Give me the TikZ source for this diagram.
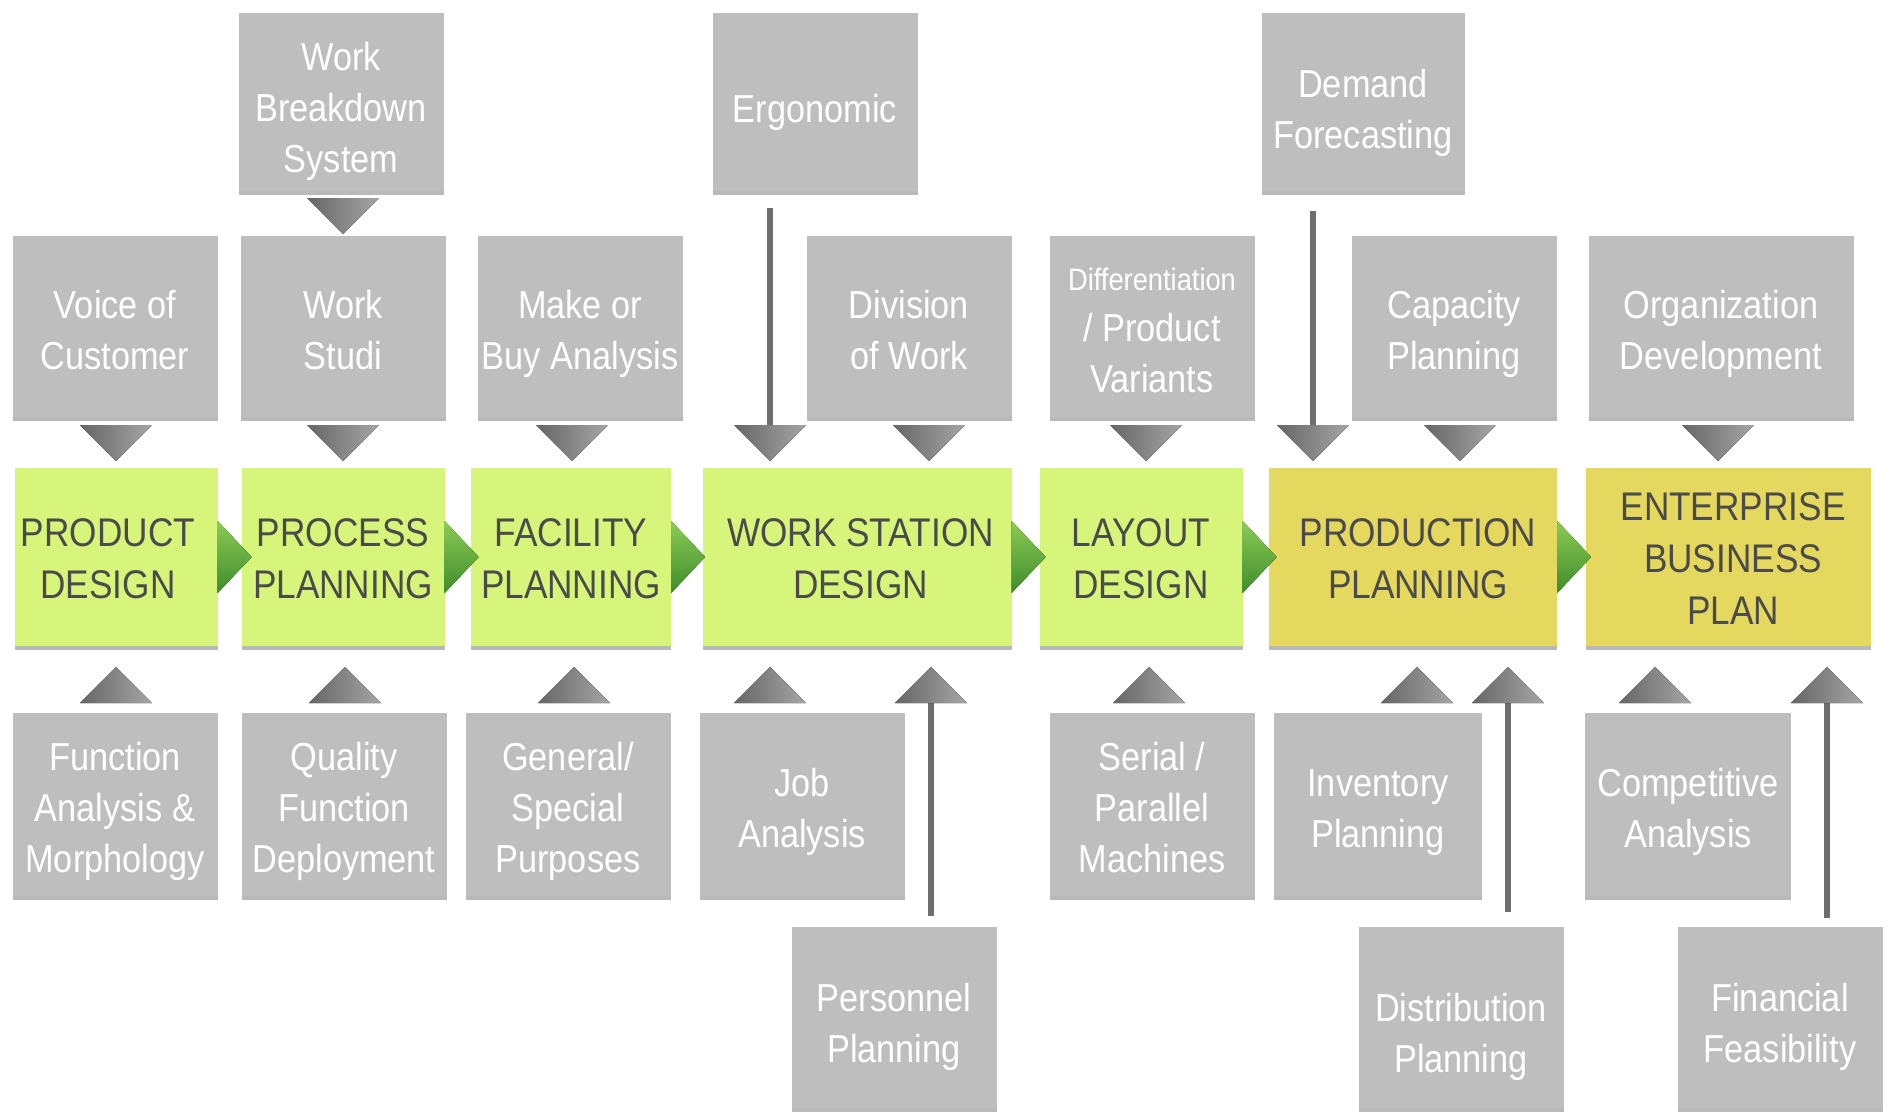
\documentclass[tikz,border=0pt]{standalone}
\usepackage{fontspec}
\setmainfont{Liberation Sans}[FakeStretch=0.88]
\usetikzlibrary{positioning,shadows}
\definecolor{boxgray}{HTML}{BEBEBE}
\definecolor{boxgreen}{HTML}{D6F57A}
\definecolor{boxyellow}{HTML}{E4D85E}
\definecolor{txtdark}{HTML}{4B4B4B}
\definecolor{linegray}{HTML}{6E6E6E}
\definecolor{chevlight}{HTML}{8CCB55}
\definecolor{chevdark}{HTML}{3F8C2C}
% text lines on a fixed grid, lowered a little in the box
\newcommand{\boxtxt}[2][-14pt]{\raisebox{#1}[0pt][0pt]{\begin{tabular}{@{}c@{}}#2\end{tabular}}}
\tikzset{
 gbox/.style={fill=boxgray, text=white, minimum width=205pt, minimum height=181pt, inner sep=0pt,
   font=\fontsize{39}{51}\selectfont, drop shadow={shadow xshift=0pt, shadow yshift=-4pt, opacity=0.55}},
 mbox/.style={gbox, fill=boxgreen, text=txtdark, minimum height=178pt, font=\fontsize{40}{52}\selectfont},
 ybox/.style={mbox, fill=boxyellow},
 feed/.style={linegray, line width=6pt},
 chev/.style={top color=chevlight, bottom color=chevdark},
 dtri/.pic={\fill[left color=black!60, right color=black!35] (-36,-18) -- (36,-18) -- (0,18) -- cycle;},
 utri/.pic={\fill[left color=black!60, right color=black!35] (-36,18) -- (36,18) -- (0,-18) -- cycle;}
}
\begin{document}
\begin{tikzpicture}[x=1pt,y=-1pt]
 \useasboundingbox (0,0) rectangle (1892,1113);
 % top row
 \node[gbox, minimum height=177pt] (wbs) at (341,102) {\boxtxt[-16pt]{Work\\Breakdown\\System}};
 \node[gbox, minimum height=177pt] (ergo) at (815,102) {\boxtxt[-17pt]{Ergonomic}};
 \node[gbox, minimum height=177pt, minimum width=203pt] (dfc) at (1363,102) {\boxtxt[-17pt]{Demand\\Forecasting}};
 % inputs above
 \node[gbox] (voc) at (115,326) {\boxtxt{Voice of\\Customer}};
 \node[gbox] (wst) at (343,326) {\boxtxt{Work\\Studi}};
 \node[gbox] (mob) at (580,326) {\boxtxt{Make or\\Buy Analysis}};
 \node[gbox] (dow) at (909,326) {\boxtxt{Division\\of Work}};
 \node[gbox] (dpv) at (1152,326) {\boxtxt[-11.5pt]{{\fontsize{31}{40}\selectfont Differentiation}\\/ Product\\Variants}};
 \node[gbox] (cap) at (1454,326) {\boxtxt{Capacity\\Planning}};
 \node[gbox, minimum width=265pt] (orgd) at (1721,326) {\boxtxt{Organization\\Development}};
 % main chain
 \node[mbox, minimum width=203pt] (pd) at (116,557) {\hspace*{-16pt}\boxtxt[-11.5pt]{PRODUCT\\DESIGN}};
 \node[mbox, minimum width=203pt] (pp) at (343,557) {\boxtxt[-11.5pt]{PROCESS\\PLANNING}};
 \node[mbox, minimum width=200pt] (fp) at (571,557) {\boxtxt[-11.5pt]{FACILITY\\PLANNING}};
 \node[mbox, minimum width=309pt] (wsd) at (857,557) {\hspace*{7pt}\boxtxt[-11.5pt]{WORK STATION\\DESIGN}};
 \node[mbox, minimum width=203pt] (ld) at (1141,557) {\boxtxt[-11.5pt]{LAYOUT\\DESIGN}};
 \node[ybox, minimum width=288pt] (prp) at (1413,557) {\hspace*{10pt}\boxtxt[-11.5pt]{PRODUCTION\\PLANNING}};
 \node[ybox, minimum width=285pt] (ebp) at (1728,557) {\hspace*{10pt}\boxtxt[-11.5pt]{ENTERPRISE\\BUSINESS\\PLAN}};
 % inputs below
 \node[gbox, minimum height=183pt] (fam) at (115,804) {\boxtxt{Function\\Analysis \&\\Morphology}};
 \node[gbox, minimum height=183pt] (qfd) at (344,804) {\boxtxt{Quality\\Function\\Deployment}};
 \node[gbox, minimum height=183pt] (gsp) at (568,804) {\boxtxt{General/\\Special\\Purposes}};
 \node[gbox, minimum height=183pt] (ja) at (802,804) {\boxtxt{Job\\Analysis}};
 \node[gbox, minimum height=183pt] (spm) at (1152,804) {\boxtxt{Serial /\\Parallel\\Machines}};
 \node[gbox, minimum height=183pt, minimum width=208pt] (inv) at (1378,804) {\boxtxt{Inventory\\Planning}};
 \node[gbox, minimum height=183pt, minimum width=206pt] (comp) at (1688,804) {\boxtxt{Competitive\\Analysis}};
 \node[gbox] (pers) at (894,1017) {\boxtxt[-16pt]{Personnel\\Planning}};
 \node[gbox] (dist) at (1461,1017) {\boxtxt[-26pt]{Distribution\\Planning}};
 \node[gbox] (fin) at (1780,1017) {\boxtxt[-16pt]{Financial\\Feasibility}};
 % chevrons
 \fill[chev] ([yshift=36pt]pd.east) -- ([xshift=34pt]pd.east) -- ([yshift=-36pt]pd.east) -- cycle;
 \fill[chev] ([yshift=36pt]pp.east) -- ([xshift=34pt]pp.east) -- ([yshift=-36pt]pp.east) -- cycle;
 \fill[chev] ([yshift=36pt]fp.east) -- ([xshift=34pt]fp.east) -- ([yshift=-36pt]fp.east) -- cycle;
 \fill[chev] ([yshift=36pt]wsd.east) -- ([xshift=34pt]wsd.east) -- ([yshift=-36pt]wsd.east) -- cycle;
 \fill[chev] ([yshift=36pt]ld.east) -- ([xshift=34pt]ld.east) -- ([yshift=-36pt]ld.east) -- cycle;
 \fill[chev] ([yshift=36pt]prp.east) -- ([xshift=34pt]prp.east) -- ([yshift=-36pt]prp.east) -- cycle;
 % long feeds
 \coordinate (dergo) at (770,443);
 \coordinate (ddfc) at (1313,443);
 \coordinate (upers) at (931,685);
 \coordinate (udist) at (1508,685);
 \coordinate (ufin) at (1827,685);
 \draw[feed] ([yshift=-17pt]ergo.south -| dergo) -- (dergo);
 \draw[feed] ([yshift=-20pt]dfc.south -| ddfc) -- (ddfc);
 \draw[feed] ([yshift=10pt]pers.north -| upers) -- (upers);
 \draw[feed] ([yshift=14pt]dist.north -| udist) -- (udist);
 \draw[feed] ([yshift=8pt]fin.north -| ufin) -- (ufin);
 % triangles
 \pic at (343,216) {dtri};
 \pic at (116,443) {dtri};
 \pic at (343,443) {dtri};
 \pic at (572,443) {dtri};
 \pic at (dergo) {dtri};
 \pic at (929,443) {dtri};
 \pic at (1146,443) {dtri};
 \pic at (ddfc) {dtri};
 \pic at (1460,443) {dtri};
 \pic at (1718,443) {dtri};
 \pic at (116,685) {utri};
 \pic at (345,685) {utri};
 \pic at (574,685) {utri};
 \pic at (770,685) {utri};
 \pic at (upers) {utri};
 \pic at (1149,685) {utri};
 \pic at (1417,685) {utri};
 \pic at (udist) {utri};
 \pic at (1655,685) {utri};
 \pic at (ufin) {utri};
\end{tikzpicture}
\end{document}
